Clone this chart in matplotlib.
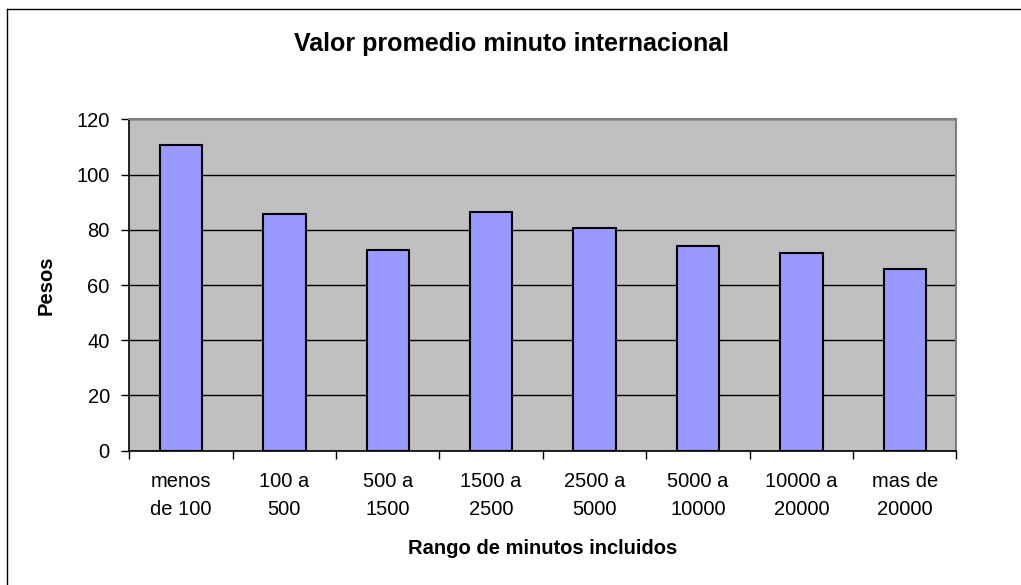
import matplotlib.pyplot as plt
import numpy as np
from matplotlib.lines import Line2D

categorias = ['menos\nde 100', '100 a\n500', '500 a\n1500', '1500 a\n2500',
              '2500 a\n5000', '5000 a\n10000', '10000 a\n20000', 'mas de\n20000']
pesos = [110.8, 85.8, 72.8, 86.3, 80.6, 74.1, 71.6, 65.7]
y_ticks = [0, 20, 40, 60, 80, 100, 120]


def main():
    plt.rcParams['font.family'] = ['Liberation Sans', 'DejaVu Sans']

    fig = plt.figure(figsize=(10.21, 5.85), dpi=100)
    ax = fig.add_axes([0.1266, 0.2296, 0.8102, 0.5664])
    ax.set_facecolor('#C0C0C0')

    x = np.arange(len(categorias))
    ax.bar(x, pesos, width=0.41, color='#9999FF', edgecolor='black',
           linewidth=1.5, zorder=3)

    ax.set_xlim(-0.5, len(categorias) - 0.5)
    ax.set_ylim(0, 120)
    ax.set_yticks(y_ticks)
    ax.yaxis.grid(True, color='black', linewidth=1.0, zorder=1)
    ax.tick_params(axis='y', labelsize=14.5, length=6, width=1, direction='out', pad=8)

    # category boundaries carry the ticks, labels sit between them
    ax.set_xticks(np.arange(-0.5, len(categorias), 1.0))
    ax.set_xticklabels([])
    ax.set_xticks(x, minor=True)
    ax.set_xticklabels(categorias, minor=True, fontsize=14.5, linespacing=1.6)
    ax.tick_params(axis='x', which='major', length=6, width=1, direction='out')
    ax.tick_params(axis='x', which='minor', length=0, pad=15)

    for s in ['left', 'bottom']:
        ax.spines[s].set_color('black')
        ax.spines[s].set_linewidth(1.2)
    for s in ['top', 'right']:
        ax.spines[s].set_color('#808080')
        ax.spines[s].set_linewidth(1.5)

    ax.set_ylabel('Pesos', fontsize=14.5, fontweight='bold', labelpad=15)
    ax.set_xlabel('Rango de minutos incluidos', fontsize=14.5, fontweight='bold', labelpad=15)
    fig.text(0.501, 0.924, 'Valor promedio minuto internacional', ha='center',
             va='center', fontsize=18, fontweight='bold')

    # chart frame (left and top edges)
    fx, fy = 7 / 1021, 1 - 9 / 585
    fig.add_artist(Line2D([fx, fx], [0, fy], transform=fig.transFigure, color='black', lw=1))
    fig.add_artist(Line2D([fx, 1], [fy, fy], transform=fig.transFigure, color='black', lw=1))

    fig.savefig('out.png', dpi=100)


if __name__ == '__main__':
    main()
